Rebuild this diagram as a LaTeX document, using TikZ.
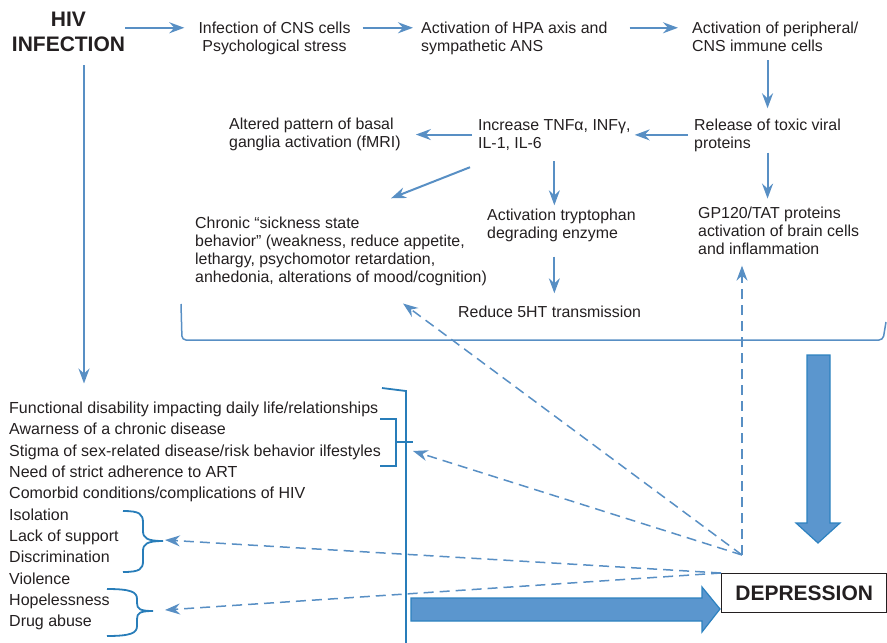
\documentclass[tikz,border=0pt]{standalone}
\usepackage{fontspec}
\setmainfont{Liberation Sans}
\usetikzlibrary{arrows.meta}

\definecolor{inkgray}{RGB}{35,31,32}
\definecolor{arrowblue}{RGB}{88,143,196}
\definecolor{brkblue}{RGB}{40,125,185}
\definecolor{blockfill}{RGB}{91,150,206}
\definecolor{blockedge}{RGB}{45,130,192}

\begin{document}
\begin{tikzpicture}[
    x=1pt, y=-1pt,
    txt/.style={inner sep=0pt, align=left, anchor=base west, text=inkgray, font=\fontsize{15.9}{18}\selectfont},
    title/.style={inner sep=0pt, align=center, anchor=base, text=inkgray, font=\bfseries\fontsize{21}{25}\selectfont},
    item/.style={inner sep=0pt, anchor=base west, text=inkgray, font=\fontsize{16}{18}\selectfont},
    flow/.style={draw=arrowblue, line width=2pt, -{Stealth[length=15pt,width=11pt,inset=5pt]}, shorten <=6pt, shorten >=8pt},
    dflow/.style={draw=arrowblue, line width=1.5pt, dash pattern=on 10pt off 6pt, -{Stealth[length=15pt,width=11pt,inset=5pt]}},
    brk/.style={draw=brkblue, line width=1.8pt},
    block/.style={fill=blockfill, draw=blockedge, line width=1.2pt, line join=miter}
  ]
    \useasboundingbox (0,0) rectangle (887,643);

    % Top row (base = last line)
    \node[title] (hiv) at (68.5,51.7) {HIV\\INFECTION};
    \node[txt, align=center, anchor=base] (infect) at (274.5,51) {Infection of CNS cells\\Psychological stress};
    \node[txt] (hpa) at (421,51) {Activation of HPA axis and\\sympathetic ANS};
    \node[txt] (periph) at (692,51) {Activation of peripheral/\\CNS immune cells};

    % Cytokine chain
    \node[txt] (release) at (694,148) {Release of toxic viral\\proteins};
    \node[txt] (increase) at (478,148) {Increase TNFα, INFγ,\\IL-1, IL-6};
    \node[txt] (altered) at (229,147.5) {Altered pattern of basal\\ganglia activation (fMRI)};
    \node[txt] (trypto) at (487,238) {Activation tryptophan\\degrading enzyme};
    \node[txt] (chronic) at (195,282) {Chronic “sickness state\\behavior” (weakness, reduce appetite,\\lethargy, psychomotor retardation,\\anhedonia, alterations of mood/cognition)};
    \node[txt] (gp) at (698,254.3) {GP120/TAT proteins\\activation of brain cells\\and inflammation};
    \node[txt] (reduce) at (458,317) {Reduce 5HT transmission};

    % Arrows
    \coordinate (row) at ([yshift=-6.5pt]infect.north);
    \draw[flow, shorten <=0pt, shorten >=14pt] (hiv.east |- row) -- (infect.west |- row);
    \draw[flow, shorten <=12pt] (infect.east |- row) -- (hpa.west |- row);
    \draw[flow, shorten <=22pt, shorten >=14pt] (hpa.east |- row) -- (periph.west |- row);
    \draw[flow, shorten <=9pt, shorten >=10pt] (periph.south -| release.north) -- (release.north);
    \draw[flow, shorten >=4pt] (release.west) -- (release.west -| increase.east);
    \draw[flow, shorten >=15pt] (increase.west) -- (increase.west -| altered.east);
    \draw[flow, shorten <=0pt, shorten >=0pt] ([xshift=-8pt,yshift=-17pt]increase.south west) -- ([xshift=50pt,yshift=18pt]chronic.north);
    \draw[flow, shorten <=11pt, shorten >=3pt] (increase.south) -- (increase.south |- trypto.north);
    \draw[flow, shorten <=15pt, shorten >=12pt] (increase.south |- trypto.south) -- (increase.south |- reduce.north);
    \draw[flow, shorten <=1pt] (release.south) -- (release.south |- gp.north);

    % Bracket under the chain
    \draw[draw=arrowblue, line width=1.5pt, rounded corners=4pt] (181,304) -- (182,340) -- (883,340) -- (886,322);

    % Psychosocial factors
    \foreach \txt [count=\i] in {Functional disability impacting daily life/relationships,
        Awarness of a chronic disease, Stigma of sex-related disease/risk behavior ilfestyles,
        Need of strict adherence to ART, Comorbid conditions/complications of HIV,
        Isolation, Lack of support, Discrimination, Violence, Hopelessness, Drug abuse}
      \node[item] (item\i) at (9,{413.3+21.35*(\i-1)}) {\txt};

    \coordinate (hivfoot) at ([xshift=15.5pt]hiv.south);
    \draw[flow, shorten <=13pt, shorten >=18pt] (hivfoot) -- (hivfoot |- item1.north);

    % Brackets and braces
    \draw[brk] (382,388) -- (406,391) -- (406,643);
    \draw[brk] (380,419) -- (396,419) -- (396,466) -- (380,466);
    \draw[brk] (396,442) -- (413,442);
    \draw[brk] (123,511) .. controls (140,511) and (143,514) .. (143,523) -- (143,531)
      .. controls (143,538) and (147,541) .. (163,541)
      .. controls (147,541) and (143,544) .. (143,551) -- (143,561)
      .. controls (143,569) and (140,572) .. (123,572);
    \draw[brk] (107,589) .. controls (131,589) and (137,592) .. (137,599) -- (137,603)
      .. controls (137,609) and (140,611) .. (153,611)
      .. controls (140,611) and (137,613) .. (137,619) -- (137,626)
      .. controls (137,633) and (131,636) .. (107,636);

    % Depression
    \node[draw=inkgray, line width=1.4pt, minimum width=165pt, minimum height=39pt, anchor=north west,
      inner sep=0pt, text=inkgray, font=\bfseries\fontsize{21}{25}\selectfont] (depression) at (721,573) {DEPRESSION};

    % Block arrows
    \draw[block] (807,355) -- (830,355) -- (830,523) -- (840,523) -- (818,543) -- (796,523) -- (807,523) -- cycle;
    \draw[block] (411,598) -- (702,598) -- (702,587) -- (720,609) -- (702,632) -- (702,621) -- (411,621) -- cycle;

    % Feedback (dashed)
    \coordinate (hub) at (742,555);
    \coordinate (sticktip) at (413,451);
    \coordinate (isotip) at (165,540);
    \coordinate (hopetip) at (165,610);
    \draw[dflow, shorten >=11pt] (hub) -- (hub |- gp.south);
    \draw[dflow] (hub) -- ([xshift=62pt,yshift=-18pt]chronic.south);
    \draw[dflow] (hub) -- (sticktip);
    \draw[dflow] (depression.north west) -- (isotip);
    \draw[dflow] (depression.north west) -- (hopetip);
  \end{tikzpicture}
\end{document}
